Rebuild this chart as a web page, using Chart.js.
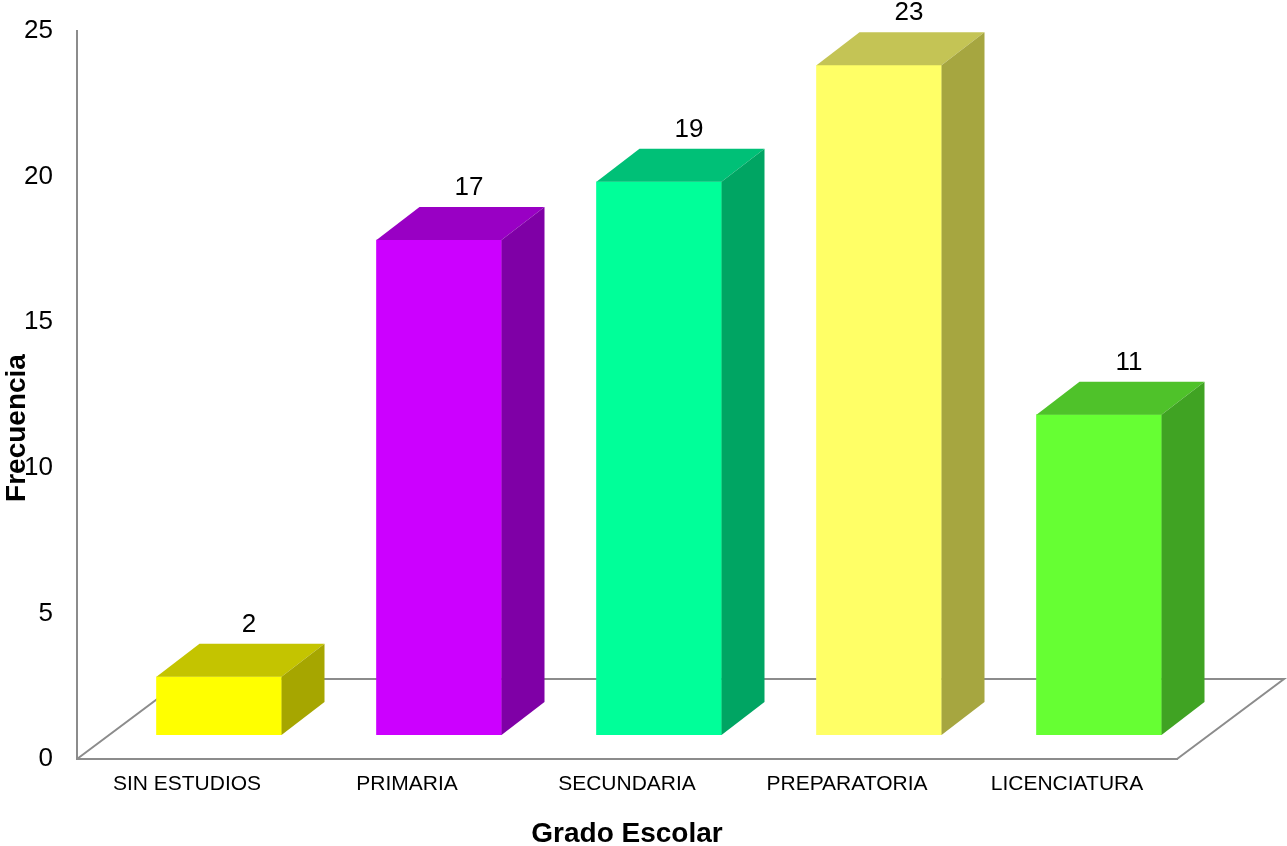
<!DOCTYPE html>
<html>
<head>
<meta charset="utf-8">
<script src="https://cdn.jsdelivr.net/npm/chart.js@4.4.1/dist/chart.umd.min.js"></script>
<style>
  html, body { margin: 0; padding: 0; background: #fff; }
  #wrap { width: 1287px; height: 846px; position: relative; }
</style>
</head>
<body>
<div id="wrap"><canvas id="gradoChart"></canvas></div>
<script>
// datos del gráfico
const categorias = ["SIN ESTUDIOS", "PRIMARIA", "SECUNDARIA", "PREPARATORIA", "LICENCIATURA"];
const frecuencias = [2, 17, 19, 23, 11];
const ticksY = [0, 5, 10, 15, 20, 25];

// colores: frente / arriba / lado
const colorFrente = ["#FFFF00", "#CC00FF", "#00FF99", "#FFFF66", "#66FF33"];
const colorArriba = ["#C4C400", "#9900C4", "#00C077", "#C4C455", "#4FC22A"];
const colorLado = ["#A6A600", "#7F00A6", "#00A563", "#A6A640", "#40A323"];

const FONT = "Arial, 'Liberation Sans', sans-serif";

// desplazamientos de la perspectiva
const PISO_DX = 107, PISO_DY = -80;  // profundidad del piso
const BAR_DX = 32, BAR_DY = -24;     // posición del frente de la barra
const PROF_DX = 43, PROF_DY = -33;   // profundidad de la barra

const barras3d = {
  id: "barras3d",
  beforeDatasetsDraw(chart) {
    const { ctx, chartArea: a } = chart;
    // piso
    ctx.save();
    ctx.strokeStyle = "#8c8c8c";
    ctx.lineWidth = 2;
    ctx.beginPath();
    ctx.moveTo(a.left, a.bottom);
    ctx.lineTo(a.left + PISO_DX, a.bottom + PISO_DY);
    ctx.lineTo(a.right + PISO_DX, a.bottom + PISO_DY);
    ctx.lineTo(a.right, a.bottom);
    ctx.stroke();

    // título del eje Y (no centrado, como en el original)
    ctx.translate(17, 428);
    ctx.rotate(-Math.PI / 2);
    ctx.fillStyle = "#000";
    ctx.font = "bold 28px " + FONT;
    ctx.textAlign = "center";
    ctx.textBaseline = "middle";
    ctx.fillText("Frecuencia", 0, 0);
    ctx.restore();
  },
  beforeDatasetDraw(chart) {
    chart.ctx.save();
    chart.ctx.translate(BAR_DX, BAR_DY);
  },
  afterDatasetDraw(chart) {
    chart.ctx.restore();
  },
  afterDatasetsDraw(chart) {
    const { ctx } = chart;
    const meta = chart.getDatasetMeta(0);
    meta.data.forEach((bar, i) => {
      const p = bar.getProps(["x", "y", "base", "width"], true);
      const xl = p.x - p.width / 2 + BAR_DX;
      const xr = p.x + p.width / 2 + BAR_DX;
      const yt = p.y + BAR_DY;
      const yb = p.base + BAR_DY;

      // cara superior
      ctx.fillStyle = colorArriba[i];
      ctx.beginPath();
      ctx.moveTo(xl, yt);
      ctx.lineTo(xl + PROF_DX, yt + PROF_DY);
      ctx.lineTo(xr + PROF_DX, yt + PROF_DY);
      ctx.lineTo(xr, yt);
      ctx.closePath();
      ctx.fill();

      // cara lateral
      ctx.fillStyle = colorLado[i];
      ctx.beginPath();
      ctx.moveTo(xr, yt);
      ctx.lineTo(xr + PROF_DX, yt + PROF_DY);
      ctx.lineTo(xr + PROF_DX, yb + PROF_DY);
      ctx.lineTo(xr, yb);
      ctx.closePath();
      ctx.fill();

      // etiqueta de valor
      ctx.fillStyle = "#000";
      ctx.font = "26px " + FONT;
      ctx.textAlign = "center";
      ctx.textBaseline = "middle";
      ctx.fillText(String(frecuencias[i]), (xl + xr) / 2 + 30, yt - 52);
    });
  }
};

new Chart(document.getElementById("gradoChart"), {
  type: "bar",
  data: {
    labels: categorias,
    datasets: [{
      label: "Frecuencia",
      data: frecuencias,
      backgroundColor: colorFrente,
      borderWidth: 0,
      barThickness: 125
    }]
  },
  options: {
    responsive: true,
    maintainAspectRatio: false,
    animation: false,
    layout: { padding: { top: 31, right: 110, left: 0, bottom: 0 } },
    plugins: {
      legend: { display: false },
      tooltip: { enabled: false }
    },
    scales: {
      y: {
        min: 0,
        max: 25,
        afterBuildTicks(scale) {
          scale.ticks = ticksY.map((v) => ({ value: v }));
        },
        afterFit(scale) {
          scale.width = 77;
          scale.paddingTop = 0;
          scale.paddingBottom = 0;
        },
        grid: { display: false, drawTicks: false },
        border: { display: true, color: "#8c8c8c", width: 2 },
        ticks: {
          padding: 24,
          color: "#000",
          font: { family: FONT, size: 26 }
        }
      },
      x: {
        afterFit(scale) {
          scale.height = 87;
          scale.paddingLeft = 0;
          scale.paddingRight = 0;
        },
        grid: { display: false, drawTicks: false },
        border: { display: true, color: "#8c8c8c", width: 2 },
        ticks: {
          padding: 13,
          maxRotation: 0,
          autoSkip: false,
          color: "#000",
          font: { family: FONT, size: 21 }
        },
        title: {
          display: true,
          text: "Grado Escolar",
          color: "#000",
          padding: { top: 28, bottom: -5 },
          font: { family: FONT, size: 28, weight: "bold" }
        }
      }
    }
  },
  plugins: [barras3d]
});
</script>
</body>
</html>
